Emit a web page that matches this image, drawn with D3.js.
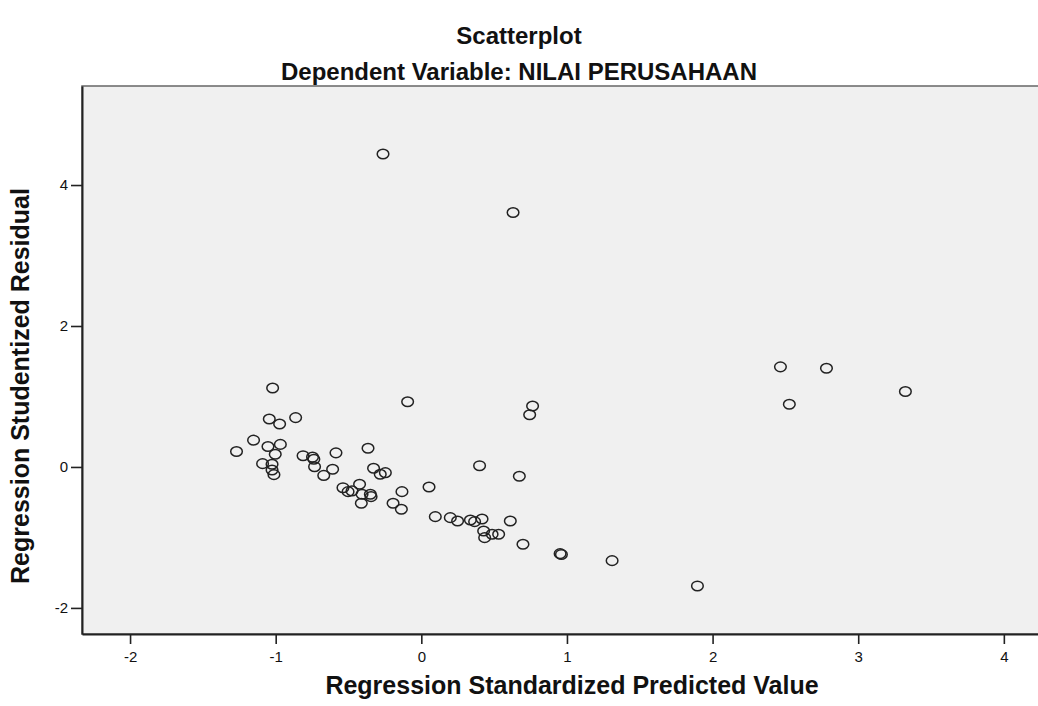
<!DOCTYPE html>
<html>
<head>
<meta charset="utf-8">
<script src="https://cdn.jsdelivr.net/npm/d3@7"></script>
<style>
  html, body { margin: 0; padding: 0; background: #fff; }
  svg { display: block; }
</style>
</head>
<body>
<svg id="chart" width="1038" height="706"></svg>
<script>
// ---- data ----
const title = "Scatterplot";
const subtitle = "Dependent Variable: NILAI PERUSAHAAN";
const xLabel = "Regression Standardized Predicted Value";
const yLabel = "Regression Studentized Residual";
const xTicks = [-2, -1, 0, 1, 2, 3, 4];
const yTicks = [-2, 0, 2, 4];

const predicted = [
  -0.263, 0.630, 2.466, 2.782, 3.324, 2.527, -1.021, -0.094, 0.764, 0.744,
  -1.044, -0.863, -0.973, -1.152, -0.968, -1.053, -1.269, -0.366, -0.586, -1.003,
  -0.812, -0.747, -0.738, -1.090, -1.025, -0.733, -0.609, -0.328, -1.025, -1.012,
  -0.670, -0.282, -0.247, 0.400, 0.673, 0.053, -0.538, -0.503, -0.476, -0.424,
  -0.407, -0.350, -0.345, -0.412, -0.133, -0.194, -0.137, 0.096, 0.199, 0.249,
  0.337, 0.366, 0.417, 0.428, 0.435, 0.486, 0.531, 0.611, 0.698, 0.953,
  0.962, 1.310, 1.896
];
const residual = [
  4.44, 3.61, 1.42, 1.40, 1.07, 0.89, 1.12, 0.925, 0.865, 0.74,
  0.68, 0.70, 0.61, 0.38, 0.32, 0.29, 0.22, 0.265, 0.20, 0.18,
  0.16, 0.14, 0.11, 0.047, 0.038, 0.004, -0.033, -0.018, -0.043, -0.109,
  -0.12, -0.104, -0.081, 0.018, -0.132, -0.284, -0.294, -0.350, -0.340, -0.245,
  -0.387, -0.387, -0.421, -0.515, -0.350, -0.515, -0.600, -0.705, -0.719, -0.766,
  -0.752, -0.776, -0.738, -0.908, -1.003, -0.955, -0.955, -0.766, -1.096, -1.230,
  -1.241, -1.329, -1.688
];

// ---- layout ----
const plot = { left: 82, top: 86, right: 1042, bottom: 634 };
const svg = d3.select("#chart");

const x = d3.scaleLinear().domain([-2.33, 4.262]).range([plot.left, plot.right]);
const y = d3.scaleLinear().domain([-2.37, 5.405]).range([plot.bottom, plot.top]);

const font = "'Liberation Sans', Arial, sans-serif";

// plot background + frame
svg.append("rect")
  .attr("x", plot.left).attr("y", plot.top)
  .attr("width", plot.right - plot.left).attr("height", plot.bottom - plot.top)
  .attr("fill", "#f0f0f0").attr("stroke", "#666").attr("stroke-width", 1.5);

// points
svg.append("g").selectAll("ellipse").data(predicted.map((v, i) => [v, residual[i]]))
  .join("ellipse")
  .attr("cx", d => x(d[0])).attr("cy", d => y(d[1]))
  .attr("rx", 5.8).attr("ry", 4.8)
  .attr("fill", "none").attr("stroke", "#222").attr("stroke-width", 1.5);

// axes
const fmt = d => String(d);
const xAxis = d3.axisBottom(x).tickValues(xTicks).tickSize(10).tickSizeOuter(0).tickPadding(7).tickFormat(fmt);
const yAxis = d3.axisLeft(y).tickValues(yTicks).tickSize(11).tickSizeOuter(0).tickPadding(3).tickFormat(fmt);

const gx = svg.append("g").attr("transform", `translate(0,${plot.bottom})`).call(xAxis);
const gy = svg.append("g").attr("transform", `translate(${plot.left},0)`).call(yAxis);
[gx, gy].forEach(a => {
  a.select(".domain").attr("stroke", "#222").attr("stroke-width", 2);
  a.selectAll(".tick line").attr("stroke", "#222").attr("stroke-width", 1.6);
  a.selectAll(".tick text").attr("fill", "#111").style("font-family", font).style("font-size", "15px");
});
gx.selectAll(".tick line").attr("y1", 1);

// titles
svg.append("text").attr("x", 519).attr("y", 44).attr("text-anchor", "middle")
  .style("font-family", font).style("font-weight", "bold").style("font-size", "24px")
  .attr("fill", "#111").text(title);
svg.append("text").attr("x", 519).attr("y", 80).attr("text-anchor", "middle")
  .style("font-family", font).style("font-weight", "bold").style("font-size", "24px")
  .attr("fill", "#111").text(subtitle);

// axis labels
svg.append("text").attr("x", 572).attr("y", 694).attr("text-anchor", "middle")
  .style("font-family", font).style("font-weight", "bold").style("font-size", "25px")
  .attr("fill", "#111").text(xLabel);
svg.append("text").attr("transform", "translate(29,386) rotate(-90)").attr("text-anchor", "middle")
  .style("font-family", font).style("font-weight", "bold").style("font-size", "25px")
  .attr("fill", "#111").text(yLabel);
</script>
</body>
</html>
